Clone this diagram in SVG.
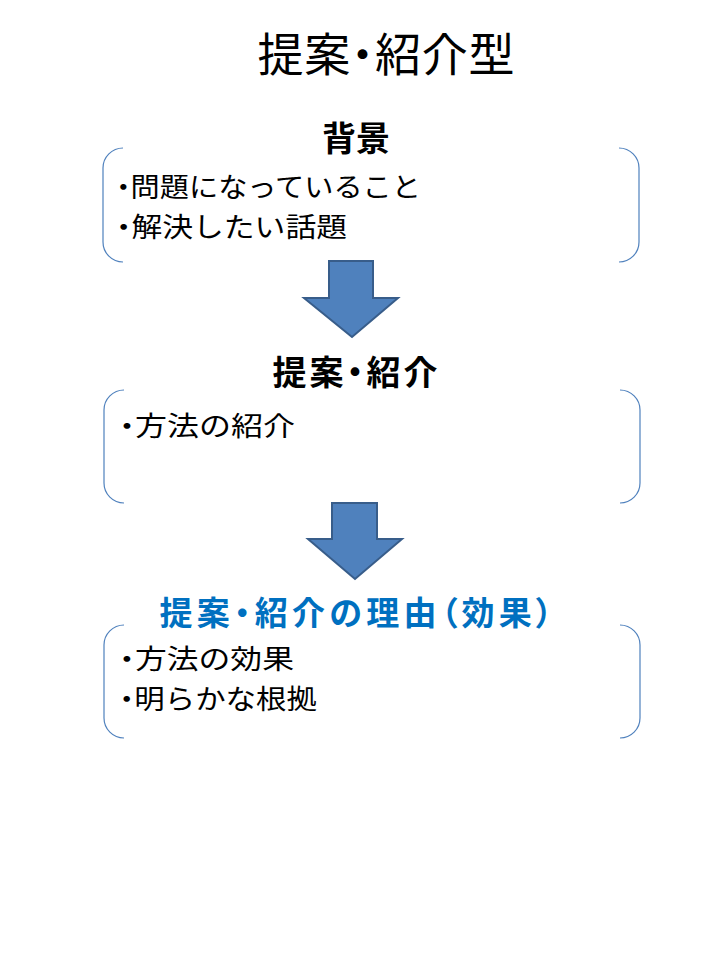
<svg xmlns="http://www.w3.org/2000/svg" width="720" height="960" viewBox="0 0 720 960">
<style>
text{font-family:"Noto Sans CJK JP","Noto Sans CJK SC",sans-serif;}
.p{font-feature-settings:"palt";}
.title{font-size:46px;fill:#000;text-anchor:middle;}
.head{font-size:34px;font-weight:bold;fill:#000;text-anchor:middle;}
.blue{font-size:33px;font-weight:bold;fill:#0070C0;text-anchor:middle;}
.body{font-size:27px;fill:#000;}
.br{fill:none;stroke:#4F81BD;stroke-width:1.2;}
.arrow{fill:#4F81BD;stroke:#385D8A;stroke-width:2;stroke-linejoin:miter;}
</style>
<rect width="720" height="960" fill="#fff"/>
<text class="title p" x="386" y="71" textLength="257" lengthAdjust="spacing">提案・紹介型</text>
<g id="node-background">
<text class="head" x="356" y="151">背景</text>
<path class="br" d="M123 148 A20 20 0 0 0 103 168 L103 242 A20 20 0 0 0 123 262"/>
<path class="br" d="M619 148 A20 20 0 0 1 639 168 L639 242 A20 20 0 0 1 619 262"/>
<text class="body" x="116" y="197" textLength="305" lengthAdjust="spacingAndGlyphs"><tspan class="p">・</tspan>問題になっていること</text>
<text class="body" x="116" y="236.5" textLength="231" lengthAdjust="spacingAndGlyphs"><tspan class="p">・</tspan>解決したい話題</text>
</g>
<g id="node-proposal">
<text class="head p" x="355" y="385" textLength="165" lengthAdjust="spacing">提案・紹介</text>
<path class="br" d="M124 390 A20 20 0 0 0 104 410 L104 483 A20 20 0 0 0 124 503"/>
<path class="br" d="M620 390 A20 20 0 0 1 640 410 L640 483 A20 20 0 0 1 620 503"/>
<text class="body" x="119" y="436" textLength="176" lengthAdjust="spacingAndGlyphs"><tspan class="p">・</tspan>方法の紹介</text>
</g>
<g id="node-reason">
<text class="blue p" x="356" y="625" textLength="393" lengthAdjust="spacing">提案・紹介の理由（効果）</text>
<path class="br" d="M124 625 A20 20 0 0 0 104 645 L104 718 A20 20 0 0 0 124 738"/>
<path class="br" d="M620 625 A20 20 0 0 1 640 645 L640 718 A20 20 0 0 1 620 738"/>
<text class="body" x="119" y="669" textLength="175" lengthAdjust="spacingAndGlyphs"><tspan class="p">・</tspan>方法の効果</text>
<text class="body" x="119" y="708.5" textLength="198" lengthAdjust="spacingAndGlyphs"><tspan class="p">・</tspan>明らかな根拠</text>
</g>
<g id="connectors">
<path class="arrow" d="M329 261 L373 261 L373 298 L398 298 L352 337 L304 298 L329 298 Z"/>
<path class="arrow" d="M332 503 L377 503 L377 539 L402 539 L355 579 L308 539 L332 539 Z"/>
</g>
</svg>
